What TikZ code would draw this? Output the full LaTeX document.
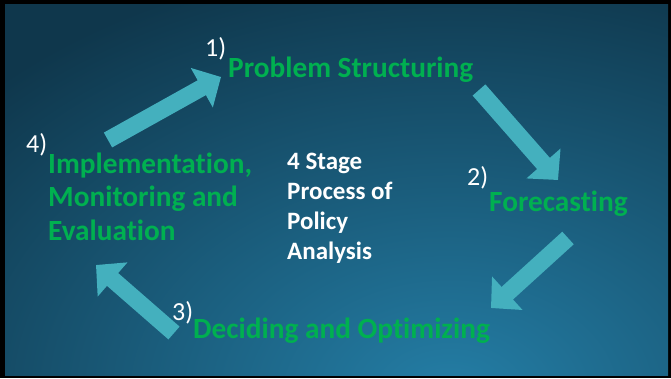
\documentclass[tikz,border=0pt]{standalone}
\usepackage{fontspec}
\setmainfont{Carlito}[Ligatures=NoCommon]
\usetikzlibrary{arrows.meta, positioning}
\definecolor{bgdark}{RGB}{15,55,76}
\definecolor{bglight}{RGB}{36,126,166}
\definecolor{flowcyan}{RGB}{68,176,190}
\definecolor{stagegreen}{RGB}{0,176,80}

\begin{document}
\begin{tikzpicture}[x=1pt, y=-1pt,
    stage/.style={text=stagegreen, font=\fontsize{29.3}{33.5}\selectfont\bfseries, inner sep=0pt, anchor=base west, align=left},
    num/.style={text=white, font=\fontsize{26}{30}\selectfont, inner sep=0pt, anchor=base west},
    title/.style={text=white, font=\fontsize{25}{30}\selectfont\bfseries, inner sep=0pt, anchor=base west, align=left},
    flow/.style={draw=flowcyan, line width=17pt, -{Triangle[width=44pt, length=22pt]}}]
    % frame and background
    \fill[black] (0,0) rectangle (671,378);
    \begin{scope}
        \clip (5,4) rectangle (668,375);
        \fill[bgdark] (5,4) rectangle (668,375);
        \shade[inner color=bglight, outer color=bgdark] (450,395) ellipse (640 and 440);
    \end{scope}

    % stages (base of a multi-line node = its last line)
    \node[stage] (ps) at (228,77) {Problem Structuring};
    \node[num] (n1) at (205,56) {1)};
    \node[stage] (fc) at (489,211) {Forecasting};
    \node[num] (n2) at (467,185) {2)};
    \node[stage] (dec) at (193,338) {Deciding and Optimizing};
    \node[num] (n3) at (172,320) {3)};
    \node[stage] (ime) at (48,240) {Implementation,\\Monitoring and\\Evaluation};
    \node[num] (n4) at (26,152) {4)};
    \node[title] (ttl) at (287,259) {4 Stage\\Process of\\Policy\\Analysis};

    % arrows
    \coordinate (a1s) at (108,140);
    \coordinate (a1e) at (221,77);
    \coordinate (a2s) at (479,90);
    \coordinate (a2e) at (558,180);
    \coordinate (a3s) at (568,238);
    \coordinate (a3e) at (491,308);
    \coordinate (a4s) at (174,333);
    \coordinate (a4e) at (96,265);
    \draw[flow] (a1s) -- (a1e);
    \draw[flow] (a2s) -- (a2e);
    \draw[flow] (a3s) -- (a3e);
    \draw[flow] (a4s) -- (a4e);
\end{tikzpicture}
\end{document}
